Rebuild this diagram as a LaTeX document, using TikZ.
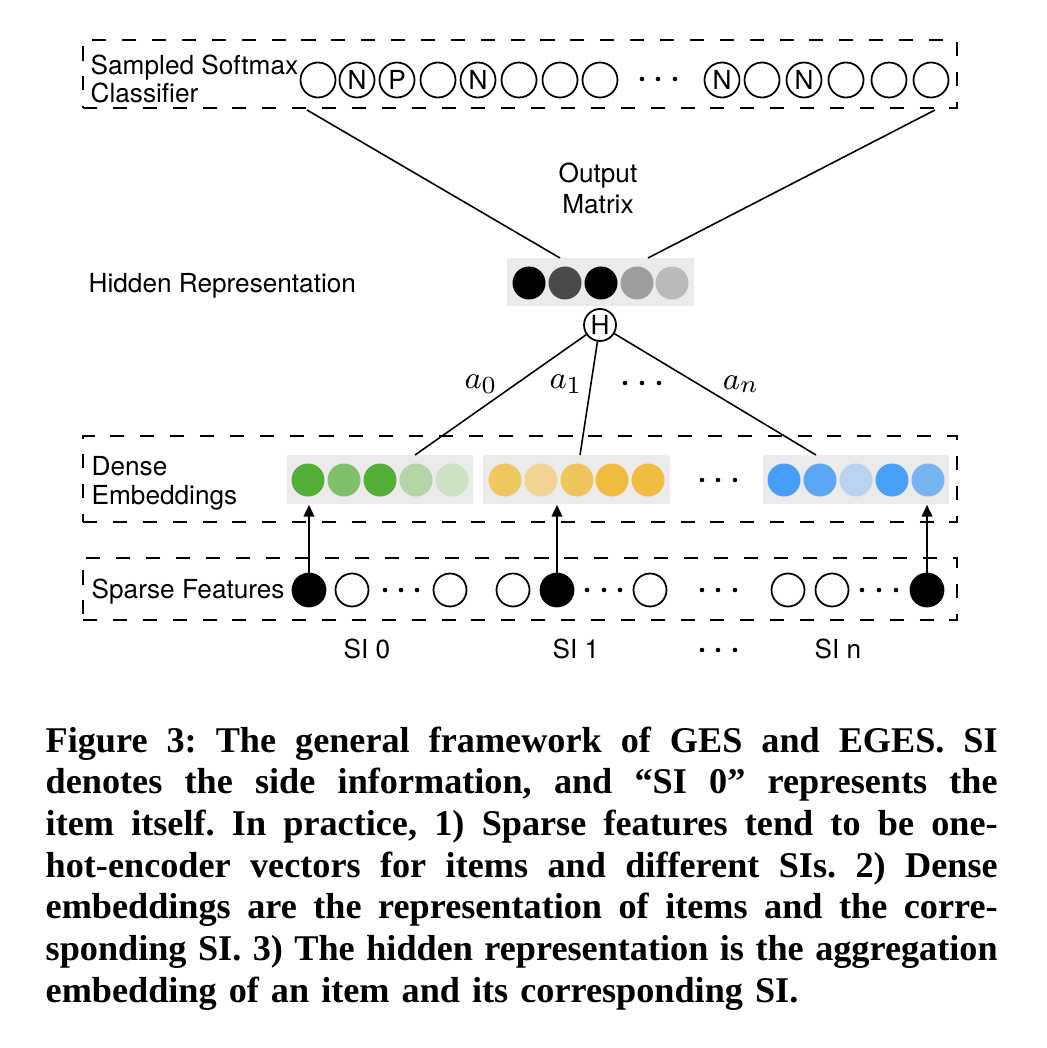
\documentclass[tikz,border=0pt]{standalone}
\usepackage{fontspec}
\setsansfont{TeX Gyre Heros}
\newfontfamily\capfont{Liberation Serif}
\usetikzlibrary{arrows.meta}
\def\pxu{0.2845pt}
\definecolor{boxgray}{HTML}{EBEBEB}
\definecolor{hA}{HTML}{000000}
\definecolor{hB}{HTML}{4A4A4A}
\definecolor{hC}{HTML}{000000}
\definecolor{hD}{HTML}{9E9E9E}
\definecolor{hE}{HTML}{BABABA}
\definecolor{gA}{HTML}{54AF36}
\definecolor{gB}{HTML}{7FBF69}
\definecolor{gC}{HTML}{54AF36}
\definecolor{gD}{HTML}{B3D8A5}
\definecolor{gE}{HTML}{CCE2C4}
\definecolor{yA}{HTML}{F0C860}
\definecolor{yB}{HTML}{EFD496}
\definecolor{yC}{HTML}{F0C65C}
\definecolor{yD}{HTML}{F0BC3E}
\definecolor{yE}{HTML}{F0BC42}
\definecolor{bA}{HTML}{46A0F5}
\definecolor{bB}{HTML}{5AA8F3}
\definecolor{bC}{HTML}{B8D4F0}
\definecolor{bD}{HTML}{46A0F5}
\definecolor{bE}{HTML}{78B4F3}
\newcommand\capline[1]{\leavevmode\hbox to 270.84pt{\spaceskip=0.25em plus 1fil minus 0.1em\xspaceskip=\spaceskip #1}}
\begin{document}
\begin{tikzpicture}[x=0.2845pt,y=-0.2845pt,
  lab/.style={font=\sffamily\fontsize{7.45}{8.5}\selectfont, inner sep=0},
  dbox/.style={draw, line width=0.7pt, dash pattern=on 4pt off 4.5pt, inner sep=0},
  cir/.style={circle, draw, line width=0.5pt, minimum size=35*\pxu, inner sep=0, font=\sffamily\fontsize{7.45}{8}\selectfont},
  scir/.style={circle, draw, line width=0.5pt, minimum size=33*\pxu, inner sep=0},
  emb/.style={circle, minimum size=33*\pxu, inner sep=0},
  gbox/.style={fill=boxgray, inner sep=0},
  conn/.style={line width=0.45pt},
  uparrow/.style={-{Triangle[length=3.4pt,width=3pt]}, line width=0.6pt},
  dotc/.style={circle, fill=black, inner sep=0, minimum size=1.3pt}
]
\useasboundingbox (0,0) rectangle (1046,1048);

% ---------- classifier ----------
\node[dbox, minimum width=874*\pxu, minimum height=68*\pxu] (clsbox) at (520,74) {};
\node[lab, anchor=base west] (lsm) at (90,75) {Sampled Softmax};
\node[lab, anchor=base west] (lcl) at (90,103) {Classifier};
\foreach \x/\t/\n in {318//c1,357/N/c2,397/P/c3,438//c4,478/N/c5,519//c6,560//c7,600//c8,722/N/c9,762//c10,804/N/c11,846//c12,889//c13,931//c14}
  \node[cir] (\n) at (\x,80) {\t};
\foreach \x/\n in {642/cd1,658/cd2,675/cd3}
  \node[dotc] (\n) at (\x,79) {};

% ---------- output matrix / hidden ----------
\node[lab, anchor=base] (om1) at (598,183) {Output};
\node[lab, anchor=base] (om2) at (598,214) {Matrix};
\node[lab, anchor=base west] (lhid) at (88,293) {Hidden Representation};
\node[gbox, minimum width=187*\pxu, minimum height=48*\pxu] (hid) at (600.5,282) {};
\foreach \x/\c/\n in {529/hA/h1,565/hB/h2,601/hC/h3,637/hD/h4,672/hE/h5}
  \node[emb, fill=\c] (\n) at (\x,283) {};
\coordinate (cl) at (307,110);
\coordinate (cr) at (935,110);
\coordinate (hl) at (560,258);
\coordinate (hr) at (648,258);
\draw[conn] (cl) -- (hl);
\draw[conn] (cr) -- (hr);

% ---------- H ----------
\node[cir, minimum size=32*\pxu, fill=white] (H) at (600,325) {H};

% ---------- dense embeddings ----------
\node[dbox, minimum width=874*\pxu, minimum height=86*\pxu] (densebox) at (520,479) {};
\node[lab, anchor=base west] (ld1) at (91,475) {Dense};
\node[lab, anchor=base west] (ld2) at (91,504) {Embeddings};
\node[gbox, minimum width=186*\pxu, minimum height=49*\pxu] (g1) at (380,479.5) {};
\node[gbox, minimum width=187*\pxu, minimum height=49*\pxu] (g2) at (576.5,479.5) {};
\node[gbox, minimum width=186*\pxu, minimum height=49*\pxu] (g3) at (856,479.5) {};
\foreach \x/\c/\n in {308/gA/e1,344/gB/e2,380/gC/e3,416/gD/e4,452/gE/e5,
                      505/yA/e6,541/yB/e7,577/yC/e8,612/yD/e9,648/yE/e10,
                      784/bA/e11,820/bB/e12,856/bC/e13,892/bD/e14,928/bE/e15}
  \node[emb, fill=\c] (\n) at (\x,480) {};
\foreach \x/\n in {702/ed1,718/ed2,735/ed3}
  \node[dotc] (\n) at (\x,480) {};

% weights
\node[font=\fontsize{9.5}{10}\selectfont, inner sep=0] (a0) at (481,384) {$a_0$};
\node[font=\fontsize{9.5}{10}\selectfont, inner sep=0] (a1) at (566,384) {$a_1$};
\node[font=\fontsize{9.5}{10}\selectfont, inner sep=0] (an) at (741,384) {$a_n$};
\foreach \x/\n in {625/ad1,642/ad2,659/ad3}
  \node[dotc] (\n) at (\x,383) {};
\coordinate (t1) at (415,455);
\coordinate (t2) at (580,455);
\coordinate (t3) at (816,455);
\draw[conn] (H) -- (t1);
\draw[conn] (H) -- (t2);
\draw[conn] (H) -- (t3);

% ---------- sparse features ----------
\node[dbox, minimum width=874*\pxu, minimum height=62*\pxu] (sparsebox) at (520,589) {};
\node[lab, anchor=base west] (lsp) at (91,598) {Sparse Features};
\foreach \x/\f/\n in {309/black/s1,352/white/s2,450/white/s3,513/white/s4,557/black/s5,650/white/s6,788/white/s7,832/white/s8,927/black/s9}
  \node[scir, fill=\f] (\n) at (\x,590) {};
\foreach \x/\n in {385/sd1,401/sd2,417/sd3,587/sd4,604/sd5,620/sd6,702/sd7,718/sd8,735/sd9,862/sd10,879/sd11,896/sd12}
  \node[dotc] (\n) at (\x,590) {};
\draw[uparrow] (s1.north) -- (s1.north |- g1.south);
\draw[uparrow] (s5.north) -- (s5.north |- g2.south);
\draw[uparrow] (s9.north) -- (s9.north |- g3.south);

% SI labels
\node[lab, anchor=base] (si0) at (367,658) {SI 0};
\node[lab, anchor=base] (si1) at (576,658) {SI 1};
\node[lab, anchor=base] (sin) at (838,658) {SI n};
\foreach \x/\n in {702/ld1,718/ld2,735/ld3}
  \node[dotc] (\n) at (\x,650) {};

% ---------- caption ----------
\node[anchor=north west, inner sep=0, text width=952*\pxu, align=left,
      font=\capfont\bfseries\fontsize{10.3}{11.86}\selectfont\frenchspacing] (cap) at (45,726) {%
\capline{Figure 3: The general framework of GES and EGES. SI}\\
\capline{denotes the side information, and “SI 0” represents the}\\
\capline{item itself. In practice, 1) Sparse features tend to be one-}\\
\capline{hot-encoder vectors for items and different SIs. 2) Dense}\\
\capline{embeddings are the representation of items and the corre-}\\
\capline{sponding SI. 3) The hidden representation is the aggregation}\\
embedding of an item and its corresponding SI.};
\end{tikzpicture}
\end{document}
